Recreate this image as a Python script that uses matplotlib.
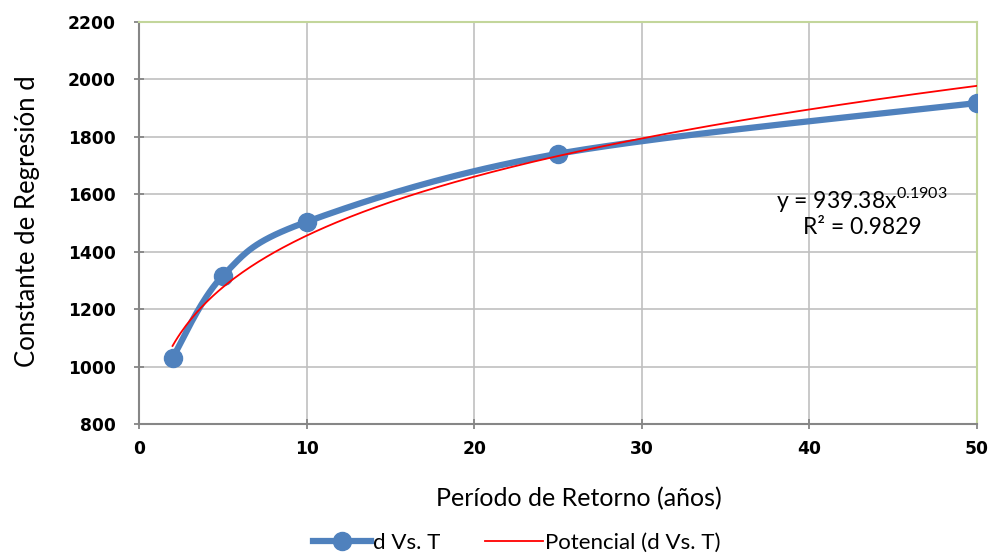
import numpy as np
import matplotlib
matplotlib.use("Agg")
import matplotlib.pyplot as plt
from matplotlib.lines import Line2D

plt.rcParams['font.family'] = ['Lato', 'DejaVu Sans']

T = [2, 5, 10, 25, 50]
d = [1030, 1316, 1504, 1741, 1918]
coef_a = 939.38
coef_b = 0.1903
x_ticks = [0, 10, 20, 30, 40, 50]
y_ticks = [800, 1000, 1200, 1400, 1600, 1800, 2000, 2200]


def catmull(xs, ys, n=40, tension=0.5):
    xs = np.asarray(xs, float); ys = np.asarray(ys, float)
    px = np.concatenate([[xs[0]], xs, [xs[-1]]])
    py = np.concatenate([[ys[0]], ys, [ys[-1]]])
    ox, oy = [], []
    for i in range(1, len(px) - 2):
        p0 = np.array([px[i - 1], py[i - 1]]); p1 = np.array([px[i], py[i]])
        p2 = np.array([px[i + 1], py[i + 1]]); p3 = np.array([px[i + 2], py[i + 2]])
        c1 = p1 + (p2 - p0) * tension / 3
        c2 = p2 - (p3 - p1) * tension / 3
        t = np.linspace(0, 1, n)[:, None]
        b = (1 - t) ** 3 * p1 + 3 * (1 - t) ** 2 * t * c1 + 3 * (1 - t) * t ** 2 * c2 + t ** 3 * p2
        ox.extend(b[:, 0]); oy.extend(b[:, 1])
    return np.array(ox), np.array(oy)


fig = plt.figure(figsize=(9.9, 5.56), dpi=100)
ax = fig.add_axes([139 / 990, 1 - 424 / 556, (977 - 139) / 990, (424 - 22) / 556])

blue = '#4f81bd'
sx, sy = catmull(T, d)
ax.plot(sx, sy, color=blue, lw=4.5, solid_capstyle='round', zorder=3)
ax.plot(T, d, 'o', color=blue, ms=13, zorder=4)

tx = np.linspace(T[0], T[-1], 300)
ax.plot(tx, coef_a * tx ** coef_b, color='#ff0000', lw=1.3, zorder=5)

ax.set_xlim(0, 50)
ax.set_ylim(800, 2200)
ax.set_xticks(x_ticks)
ax.set_yticks(y_ticks)
ax.grid(True, color='#c0c0c0', lw=1.2)
ax.set_axisbelow(True)
for s in ['top', 'right']:
    ax.spines[s].set_color('#c3d69b')
    ax.spines[s].set_linewidth(1.5)
for s in ['left', 'bottom']:
    ax.spines[s].set_color('#868686')
    ax.spines[s].set_linewidth(1.5)
ax.tick_params(direction='inout', length=7, width=1.3, color='#868686')
ax.tick_params(axis='y', pad=13)
ax.tick_params(axis='x', pad=8)
for lab in ax.get_xticklabels() + ax.get_yticklabels():
    lab.set_fontfamily(['DejaVu Sans'])
    lab.set_fontweight('bold')
    lab.set_fontsize(12.3)

fig.text(579 / 990, 1 - 499 / 556, 'Período de Retorno (años)', fontsize=18,
         ha='center', va='center')
fig.text(28 / 990, 1 - 221 / 556, 'Constante de Regresión d', fontsize=18.5,
         ha='center', va='center', rotation=90)

fig.text(862 / 990, 1 - 199 / 556, 'y = 939.38x$^{\\mathregular{0.1903}}$', fontsize=16.5,
         ha='center', va='center')
fig.text(862 / 990, 1 - 227 / 556, 'R² = 0.9829', fontsize=16.5, ha='center', va='center')

handles = [Line2D([], [], color=blue, lw=4.5, marker='o', ms=13),
           Line2D([], [], color='#ff0000', lw=1.3)]
fig.legend(handles, ['d Vs. T', 'Potencial (d Vs. T)'], loc='center',
           bbox_to_anchor=(517 / 990, 1 - 543 / 556), ncol=2, frameon=False,
           fontsize=16, handlelength=2.6, columnspacing=2.0, handletextpad=0.1)

fig.savefig('out.png', dpi=100)
